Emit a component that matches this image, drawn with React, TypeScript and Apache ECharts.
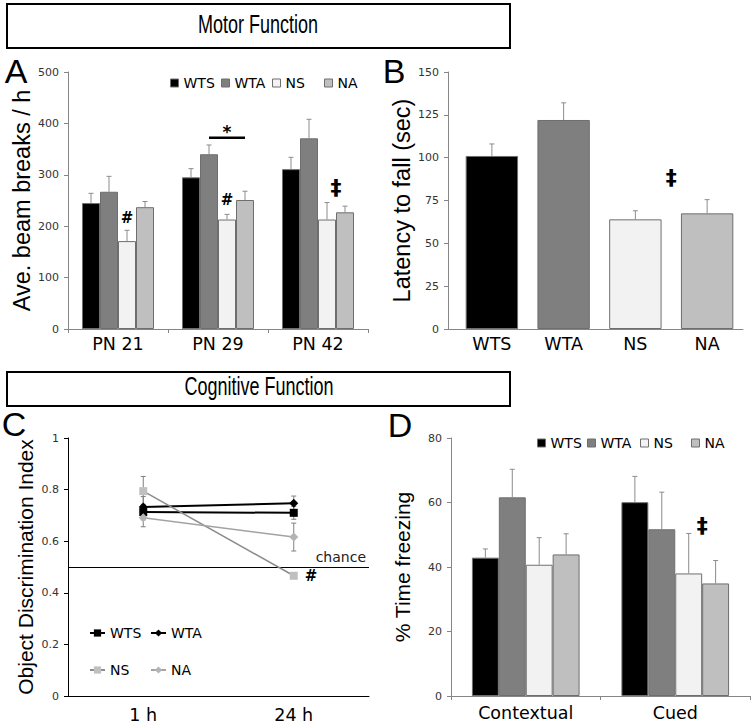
import React, { useEffect, useRef } from 'react';
import * as echarts from 'echarts';

// ---------- shared ----------
const GROUPS = ['WTS', 'WTA', 'NS', 'NA'];
const BAR_FILLS = ['#000000', '#7f7f7f', '#f2f2f2', '#bfbfbf'];

// ---------- Panel A : beam breaks ----------
const ageLabels = ['PN 21', 'PN 29', 'PN 42'];
const beamWTS = [245, 295, 311];
const beamWTA = [267, 340, 371];
const beamNS = [171, 213, 213];
const beamNA = [237, 251, 227];
const beamSemWTS = [19, 17, 23];
const beamSemWTA = [30, 18, 37];
const beamSemNS = [21, 10, 33];
const beamSemNA = [11, 17, 12];
const beamAxis = { min: 0, max: 500, interval: 100 };
const annotationsA = [
  { text: '#', value: 215, from: [0, 2], to: [0, 2] },
  { text: '#', value: 251, from: [1, 2], to: [1, 2] },
  { text: '‡', value: 276, from: [2, 2], to: [2, 3] },
  { text: '*', value: 384, from: [1, 1], to: [1, 3] },
];
const bracketsA = [{ value: 372, from: [1, 1], to: [1, 3] }];

// ---------- Panel B : rotarod ----------
const rotarodLabels = ['WTS', 'WTA', 'NS', 'NA'];
const latency = [101, 122, 64, 67.5];
const latencySem = [7, 10, 5, 8];
const latencyAxis = { min: 0, max: 150, interval: 25 };
const annotationsB = [{ text: '‡', value: 88.6, from: [2, 0], to: [3, 0] }];

// ---------- Panel C : object discrimination ----------
const delayLabels = ['1 h', '24 h'];
const odiWTS = [0.713, 0.71];
const odiWTA = [0.733, 0.747];
const odiNS = [0.794, 0.466];
const odiNA = [0.691, 0.616];
const odiSemWTS = [0.03, 0.025];
const odiSemWTA = [0.04, 0.028];
const odiSemNS = [0.057, 0.01];
const odiSemNA = [0.035, 0.054];
const chanceLevel = 0.5;
const odiAxis = { min: 0, max: 1, interval: 0.2 };

// ---------- Panel D : fear conditioning ----------
const fearLabels = ['Contextual', 'Cued'];
const freezeWTS = [42.9, 60.1];
const freezeWTA = [61.6, 51.7];
const freezeNS = [40.7, 38.0];
const freezeNA = [43.9, 34.9];
const freezeSemWTS = [2.7, 8.0];
const freezeSemWTA = [8.7, 11.5];
const freezeSemNS = [8.4, 12.4];
const freezeSemNA = [6.4, 7.1];
const freezeAxis = { min: 0, max: 80, interval: 20 };
const annotationsD = [{ text: '‡', value: 52.8, from: [1, 2], to: [1, 3] }];

// ---------- helpers ----------
const TICK_FONT = 'DejaVu Sans';
const TITLE_FONT = 'Liberation Sans';
const AXIS_GRAY = '#868686';
const ERR_GRAY = '#8c8c8c';

const yAxis = (gridIndex: number, rng: any, name: string, nameSize: number, nameGap: number, color: string, extra: any = {}) => ({
  type: 'value',
  gridIndex,
  min: rng.min,
  max: rng.max,
  interval: rng.interval,
  name,
  nameLocation: 'middle',
  nameRotate: 90,
  nameGap,
  nameTextStyle: { fontFamily: TITLE_FONT, fontSize: nameSize, color: '#000' },
  offset: extra.offset || 0,
  axisLine: { show: true, lineStyle: { color, width: 1 } },
  axisTick: { show: true, length: 4, lineStyle: { color } },
  axisLabel: { fontFamily: TICK_FONT, fontSize: 11, color: '#333', margin: 9 },
  splitLine: { show: false },
});

const xAxis = (gridIndex: number, data: string[], color: string, ticks: boolean, margin: number) => ({
  type: 'category',
  gridIndex,
  data,
  axisLine: { show: true, lineStyle: { color, width: 1 } },
  axisTick: { show: ticks, length: 4, lineStyle: { color } },
  axisLabel: { fontFamily: TICK_FONT, fontSize: 17.5, color: '#000', margin },
  splitLine: { show: false },
});

const barSeries = (panel: string, idx: number, values: number[][], gap: string) =>
  GROUPS.map((g, i) => ({
    type: 'bar',
    name: `${panel}-${g}`,
    xAxisIndex: idx,
    yAxisIndex: idx,
    data: values[i],
    barGap: '0%',
    barCategoryGap: gap,
    silent: true,
    z: 2,
    itemStyle: { color: BAR_FILLS[i], borderColor: '#6e6e6e', borderWidth: 1 },
  }));

const barErrorSeries = (idx: number, means: number[][], sems: number[][], nBars: number, frac: number) => {
  const data: number[][] = [];
  means.forEach((arr, slot) => arr.forEach((m, cat) => data.push([cat, slot, m, m + sems[slot][cat]])));
  return {
    type: 'custom',
    xAxisIndex: idx,
    yAxisIndex: idx,
    silent: true,
    z: 3,
    data,
    encode: { x: 0, y: [2, 3] },
    renderItem: (params: any, api: any) => {
      const cat = api.value(0);
      const slot = api.value(1);
      const band = api.size([1, 0])[0];
      const bw = (band * frac) / nBars;
      const p0 = api.coord([cat, api.value(2)]);
      const p1 = api.coord([cat, api.value(3)]);
      const x = p0[0] + (slot - (nBars - 1) / 2) * bw;
      const st = { stroke: ERR_GRAY, lineWidth: 1 };
      return {
        type: 'group',
        children: [
          { type: 'line', shape: { x1: x, y1: p0[1], x2: x, y2: p1[1] }, style: st },
          { type: 'line', shape: { x1: x - 2.5, y1: p1[1], x2: x + 2.5, y2: p1[1] }, style: st },
        ],
      };
    },
  };
};

const fontFor = (t: string) =>
  t === '‡' ? { fontSize: 22, fontWeight: 'bold' } : t === '*' ? { fontSize: 17, fontWeight: 'bold' } : { fontSize: 15, fontWeight: 'bold' };

const annotationSeries = (idx: number, items: any[], nBars: number, frac: number) => ({
  type: 'custom',
  xAxisIndex: idx,
  yAxisIndex: idx,
  silent: true,
  z: 4,
  data: items.map((a) => [a.from[0], a.from[1], a.to[0], a.to[1], a.value]),
  encode: { x: 0, y: 4 },
  renderItem: (params: any, api: any) => {
    const band = api.size([1, 0])[0];
    const bw = (band * frac) / nBars;
    const xOf = (cat: number, slot: number) => api.coord([cat, 0])[0] + (slot - (nBars - 1) / 2) * bw;
    const x = (xOf(api.value(0), api.value(1)) + xOf(api.value(2), api.value(3))) / 2;
    const y = api.coord([api.value(0), api.value(4)])[1];
    const t = items[params.dataIndex].text;
    return {
      type: 'text',
      x,
      y,
      style: { text: t, fontFamily: TICK_FONT, ...fontFor(t), fill: '#000', align: 'center', verticalAlign: 'middle' },
    };
  },
});

const bracketSeries = (idx: number, items: any[], nBars: number, frac: number) => ({
  type: 'custom',
  xAxisIndex: idx,
  yAxisIndex: idx,
  silent: true,
  z: 4,
  data: items.map((a) => [a.from[0], a.from[1], a.to[0], a.to[1], a.value]),
  encode: { x: 0, y: 4 },
  renderItem: (params: any, api: any) => {
    const band = api.size([1, 0])[0];
    const bw = (band * frac) / nBars;
    const xOf = (cat: number, slot: number) => api.coord([cat, 0])[0] + (slot - (nBars - 1) / 2) * bw;
    const y = api.coord([api.value(0), api.value(4)])[1];
    return {
      type: 'line',
      shape: { x1: xOf(api.value(0), api.value(1)), y1: y, x2: xOf(api.value(2), api.value(3)), y2: y },
      style: { stroke: '#000', lineWidth: 2.5 },
    };
  },
});

const barLegend = (name: string, left: number, top: number) => ({
  data: [name],
  left,
  top,
  padding: 0,
  selectedMode: false,
  icon: 'rect',
  itemWidth: 8,
  itemHeight: 8,
  formatter: (n: string) => n.split('-')[1],
  textStyle: { fontFamily: TICK_FONT, fontSize: 14, color: '#000' },
  itemStyle: { borderColor: '#6e6e6e', borderWidth: 1 },
});

const lineLegend = (name: string, left: number, top: number) => ({
  data: [name],
  left,
  top,
  padding: 0,
  selectedMode: false,
  itemWidth: 15,
  itemHeight: 9,
  formatter: (n: string) => n.split('-')[1],
  textStyle: { fontFamily: TICK_FONT, fontSize: 14, color: '#000' },
});

// Panel C lines
const C_STYLES = [
  { sym: 'rect', size: 8, mark: '#000000', line: '#000000', w: 2 },
  { sym: 'diamond', size: 9, mark: '#000000', line: '#000000', w: 2 },
  { sym: 'rect', size: 8, mark: '#c0c0c0', line: '#8c8c8c', w: 1.5 },
  { sym: 'diamond', size: 9, mark: '#b4b4b4', line: '#a3a3a3', w: 1.5 },
];
const odiMeans = [odiWTS, odiWTA, odiNS, odiNA];
const odiSems = [odiSemWTS, odiSemWTA, odiSemNS, odiSemNA];

const lineSeriesC = GROUPS.map((g, i) => {
  const s = C_STYLES[i];
  const data: any[] = odiMeans[i].map((v) => v);
  if (g === 'NS') {
    data[1] = {
      value: odiMeans[i][1],
      label: { show: true, formatter: '#', position: 'right', distance: 7, color: '#000', fontFamily: TICK_FONT, fontSize: 15, fontWeight: 'bold' },
    };
  }
  const series: any = {
    type: 'line',
    name: `C-${g}`,
    xAxisIndex: 2,
    yAxisIndex: 2,
    data,
    symbol: s.sym,
    symbolSize: s.size,
    showSymbol: true,
    silent: true,
    z: 5,
    itemStyle: { color: s.mark },
    lineStyle: { color: s.line, width: s.w },
  };
  if (i === 0) {
    series.markLine = {
      silent: true,
      symbol: ['none', 'none'],
      data: [{ yAxis: chanceLevel }],
      lineStyle: { color: '#000', width: 1, type: 'solid' },
      label: { show: true, formatter: 'chance', position: 'insideEndTop', distance: 3, color: '#222', fontFamily: TICK_FONT, fontSize: 14 },
    };
  }
  return series;
});

const odiErrorSeries = {
  type: 'custom',
  xAxisIndex: 2,
  yAxisIndex: 2,
  silent: true,
  z: 3,
  data: odiMeans.flatMap((arr, i) => arr.map((m, cat) => [cat, m, m - odiSems[i][cat], m + odiSems[i][cat]])),
  encode: { x: 0, y: [2, 3] },
  renderItem: (params: any, api: any) => {
    const lo = api.coord([api.value(0), api.value(2)]);
    const hi = api.coord([api.value(0), api.value(3)]);
    const x = lo[0];
    const st = { stroke: '#808080', lineWidth: 1 };
    return {
      type: 'group',
      children: [
        { type: 'line', shape: { x1: x, y1: lo[1], x2: x, y2: hi[1] }, style: st },
        { type: 'line', shape: { x1: x - 2.5, y1: lo[1], x2: x + 2.5, y2: lo[1] }, style: st },
        { type: 'line', shape: { x1: x - 2.5, y1: hi[1], x2: x + 2.5, y2: hi[1] }, style: st },
      ],
    };
  },
};

// ---------- option ----------
const beamMeans = [beamWTS, beamWTA, beamNS, beamNA];
const beamSems = [beamSemWTS, beamSemWTA, beamSemNS, beamSemNA];
const freezeMeans = [freezeWTS, freezeWTA, freezeNS, freezeNA];
const freezeSems = [freezeSemWTS, freezeSemWTA, freezeSemNS, freezeSemNA];

const headerText = (text: string, x: number, y: number) => ({
  type: 'text',
  x,
  y,
  scaleX: 0.68,
  style: { text, fontFamily: TITLE_FONT, fontSize: 26.5, fill: '#000', align: 'center', verticalAlign: 'middle' },
});
const panelLetter = (text: string, x: number, y: number) => ({
  type: 'text',
  x,
  y,
  style: { text, fontFamily: TITLE_FONT, fontSize: 34, fill: '#000', align: 'center', verticalAlign: 'middle' },
});

const option: any = {
  animation: false,
  backgroundColor: '#ffffff',
  grid: [
    { left: 68, top: 72, width: 300, height: 257 },
    { left: 456, top: 72, width: 287, height: 257 },
    { left: 68, top: 438, width: 301, height: 258 },
    { left: 451, top: 438, width: 299, height: 258 },
  ],
  xAxis: [
    xAxis(0, ageLabels, AXIS_GRAY, true, 6),
    xAxis(1, rotarodLabels, AXIS_GRAY, false, 6),
    xAxis(2, delayLabels, '#000', false, 10),
    xAxis(3, fearLabels, AXIS_GRAY, true, 8),
  ],
  yAxis: [
    yAxis(0, beamAxis, 'Ave. beam breaks / h', 23.5, 32, AXIS_GRAY),
    yAxis(1, latencyAxis, 'Latency to fall (sec)', 23.5, 33, AXIS_GRAY, { offset: 8 }),
    yAxis(2, odiAxis, 'Object Discrimination Index', 21, 32, '#000'),
    yAxis(3, freezeAxis, '% Time freezing', 21, 38, AXIS_GRAY),
  ],
  legend: [
    barLegend('A-WTS', 170, 76),
    barLegend('A-WTA', 221, 76),
    barLegend('A-NS', 272, 76),
    barLegend('A-NA', 324, 76),
    lineLegend('C-WTS', 89, 626),
    lineLegend('C-WTA', 150, 626),
    lineLegend('C-NS', 89, 663),
    lineLegend('C-NA', 150, 663),
    barLegend('D-WTS', 537, 436),
    barLegend('D-WTA', 587, 436),
    barLegend('D-NS', 640, 436),
    barLegend('D-NA', 691, 436),
  ],
  graphic: [
    { type: 'rect', shape: { x: 7, y: 4, width: 503, height: 44 }, style: { fill: 'none', stroke: '#000', lineWidth: 2 } },
    headerText('Motor Function', 258, 24),
    { type: 'rect', shape: { x: 7, y: 372, width: 503, height: 34 }, style: { fill: 'none', stroke: '#000', lineWidth: 2 } },
    headerText('Cognitive Function', 259, 386),
    panelLetter('A', 16, 71),
    panelLetter('B', 394, 71),
    panelLetter('C', 14, 424),
    panelLetter('D', 400, 425),
    // closes the rotarod x-axis line up to its offset y-axis
    { type: 'line', shape: { x1: 448, y1: 329.5, x2: 456, y2: 329.5 }, style: { stroke: AXIS_GRAY, lineWidth: 1 } },
  ],
  series: [
    ...barSeries('A', 0, beamMeans, '28%'),
    barErrorSeries(0, beamMeans, beamSems, 4, 0.72),
    annotationSeries(0, annotationsA, 4, 0.72),
    bracketSeries(0, bracketsA, 4, 0.72),
    {
      type: 'bar',
      name: 'B-latency',
      xAxisIndex: 1,
      yAxisIndex: 1,
      barCategoryGap: '27%',
      silent: true,
      z: 2,
      data: latency.map((v, i) => ({ value: v, itemStyle: { color: BAR_FILLS[i] } })),
      itemStyle: { borderColor: '#6e6e6e', borderWidth: 1 },
    },
    barErrorSeries(1, [latency], [latencySem], 1, 0.73),
    annotationSeries(1, annotationsB, 1, 0.73),
    ...lineSeriesC,
    odiErrorSeries,
    ...barSeries('D', 3, freezeMeans, '28%'),
    barErrorSeries(3, freezeMeans, freezeSems, 4, 0.72),
    annotationSeries(3, annotationsD, 4, 0.72),
  ],
};

export default function App() {
  const ref = useRef<HTMLDivElement>(null);
  useEffect(() => {
    if (!ref.current) return;
    const chart = echarts.init(ref.current, undefined, { renderer: 'svg' });
    chart.setOption(option);
    return () => chart.dispose();
  }, []);
  return (
    <div
      ref={ref}
      style={{ position: 'absolute', left: 0, top: 0, width: 755, height: 726, background: '#ffffff' }}
    />
  );
}
